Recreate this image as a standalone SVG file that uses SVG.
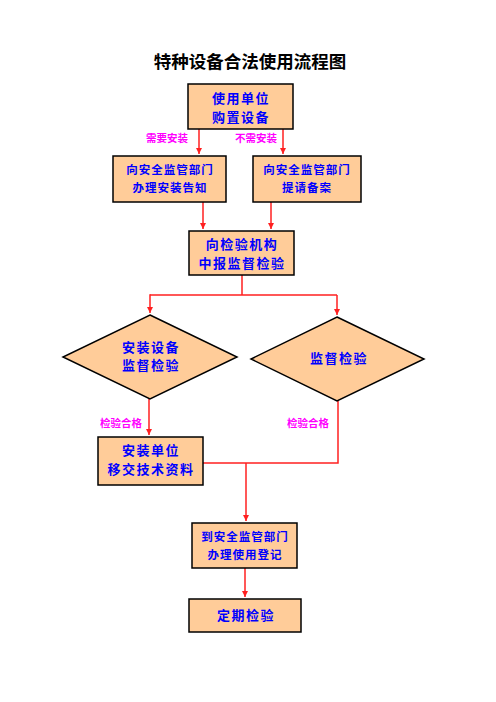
<svg xmlns="http://www.w3.org/2000/svg" width="496" height="702" viewBox="0 0 496 702">
<defs>
<style>
.box{fill:#FFCC99;stroke:#000;stroke-width:1.5}
.t{font-family:"Noto Sans CJK SC","Noto Sans CJK JP",sans-serif;font-weight:bold;fill:#0000FF;text-anchor:middle}
.t13{font-size:13px;letter-spacing:1.5px}
.t12{font-size:11.5px;letter-spacing:1px}
.lbl{font-family:"Noto Sans CJK SC",sans-serif;font-size:10.5px;font-weight:bold;fill:#FF00FF;text-anchor:middle}
.c{fill:none;stroke:#FF2020;stroke-width:1.5}
</style>
<marker id="ah" viewBox="0 0 10 10" refX="10" refY="5" markerWidth="4" markerHeight="4" orient="auto" markerUnits="strokeWidth">
<path d="M0,0 L10,5 L0,10 z" fill="#FF2020"/>
</marker>
</defs>
<rect width="496" height="702" fill="#fff"/>
<text x="250" y="68" font-family="'Noto Sans CJK SC',sans-serif" font-weight="bold" font-size="17.5" text-anchor="middle" fill="#000">特种设备合法使用流程图</text>

<g id="connectors">
<path class="c" d="M199,129 V154" marker-end="url(#ah)"/>
<path class="c" d="M283,129 V154" marker-end="url(#ah)"/>
<path class="c" d="M203,202 V229" marker-end="url(#ah)"/>
<path class="c" d="M271,202 V229" marker-end="url(#ah)"/>
<path class="c" d="M242,275 V295 M150,295 H337"/>
<path class="c" d="M150,294.3 V313" marker-end="url(#ah)"/>
<path class="c" d="M337,295 V315" marker-end="url(#ah)"/>
<path class="c" d="M149,399 V435" marker-end="url(#ah)"/>
<path class="c" d="M338,401 V463 H203"/>
<path class="c" d="M246,463 V521" marker-end="url(#ah)"/>
<path class="c" d="M245,568 V597" marker-end="url(#ah)"/>
<text class="lbl" x="167" y="142">需要安装</text>
<text class="lbl" x="256" y="142">不需安装</text>
<text class="lbl" x="121" y="427">检验合格</text>
<text class="lbl" x="308" y="427">检验合格</text>
</g>

<g id="n1">
<rect class="box" x="188" y="84" width="105" height="45"/>
<text class="t t13" x="241" y="103">使用单位</text>
<text class="t t13" x="241" y="122">购置设备</text>
</g>
<g id="n2">
<rect class="box" x="113" y="156" width="113" height="46"/>
<text class="t t12" x="170" y="174">向安全监管部门</text>
<text class="t t12" x="170" y="192">办理安装告知</text>
</g>
<g id="n3">
<rect class="box" x="253" y="156" width="108" height="46"/>
<text class="t t12" x="307" y="174">向安全监管部门</text>
<text class="t t12" x="307" y="192">提请备案</text>
</g>
<g id="n4">
<rect class="box" x="189" y="231" width="105" height="44"/>
<text class="t t13" x="242" y="249">向检验机构</text>
<text class="t t13" x="242" y="268">中报监督检验</text>
</g>
<g id="n5">
<polygon class="box" points="150,315 237,357 150,399 63,357"/>
<text class="t t13" x="151" y="352">安装设备</text>
<text class="t t13" x="151" y="370">监督检验</text>
</g>
<g id="n6">
<polygon class="box" points="337,317 424,359 337,401 251,359"/>
<text class="t t13" x="339" y="363">监督检验</text>
</g>
<g id="n7">
<rect class="box" x="98" y="437" width="105" height="48"/>
<text class="t t13" x="151" y="455">安装单位</text>
<text class="t t13" x="151" y="474">移交技术资料</text>
</g>
<g id="n8">
<rect class="box" x="192" y="523" width="105" height="45"/>
<text class="t t12" x="245" y="541">到安全监管部门</text>
<text class="t t12" x="245" y="559">办理使用登记</text>
</g>
<g id="n9">
<rect class="box" x="189" y="599" width="112" height="33"/>
<text class="t t13" x="246" y="620">定期检验</text>
</g>
</svg>
